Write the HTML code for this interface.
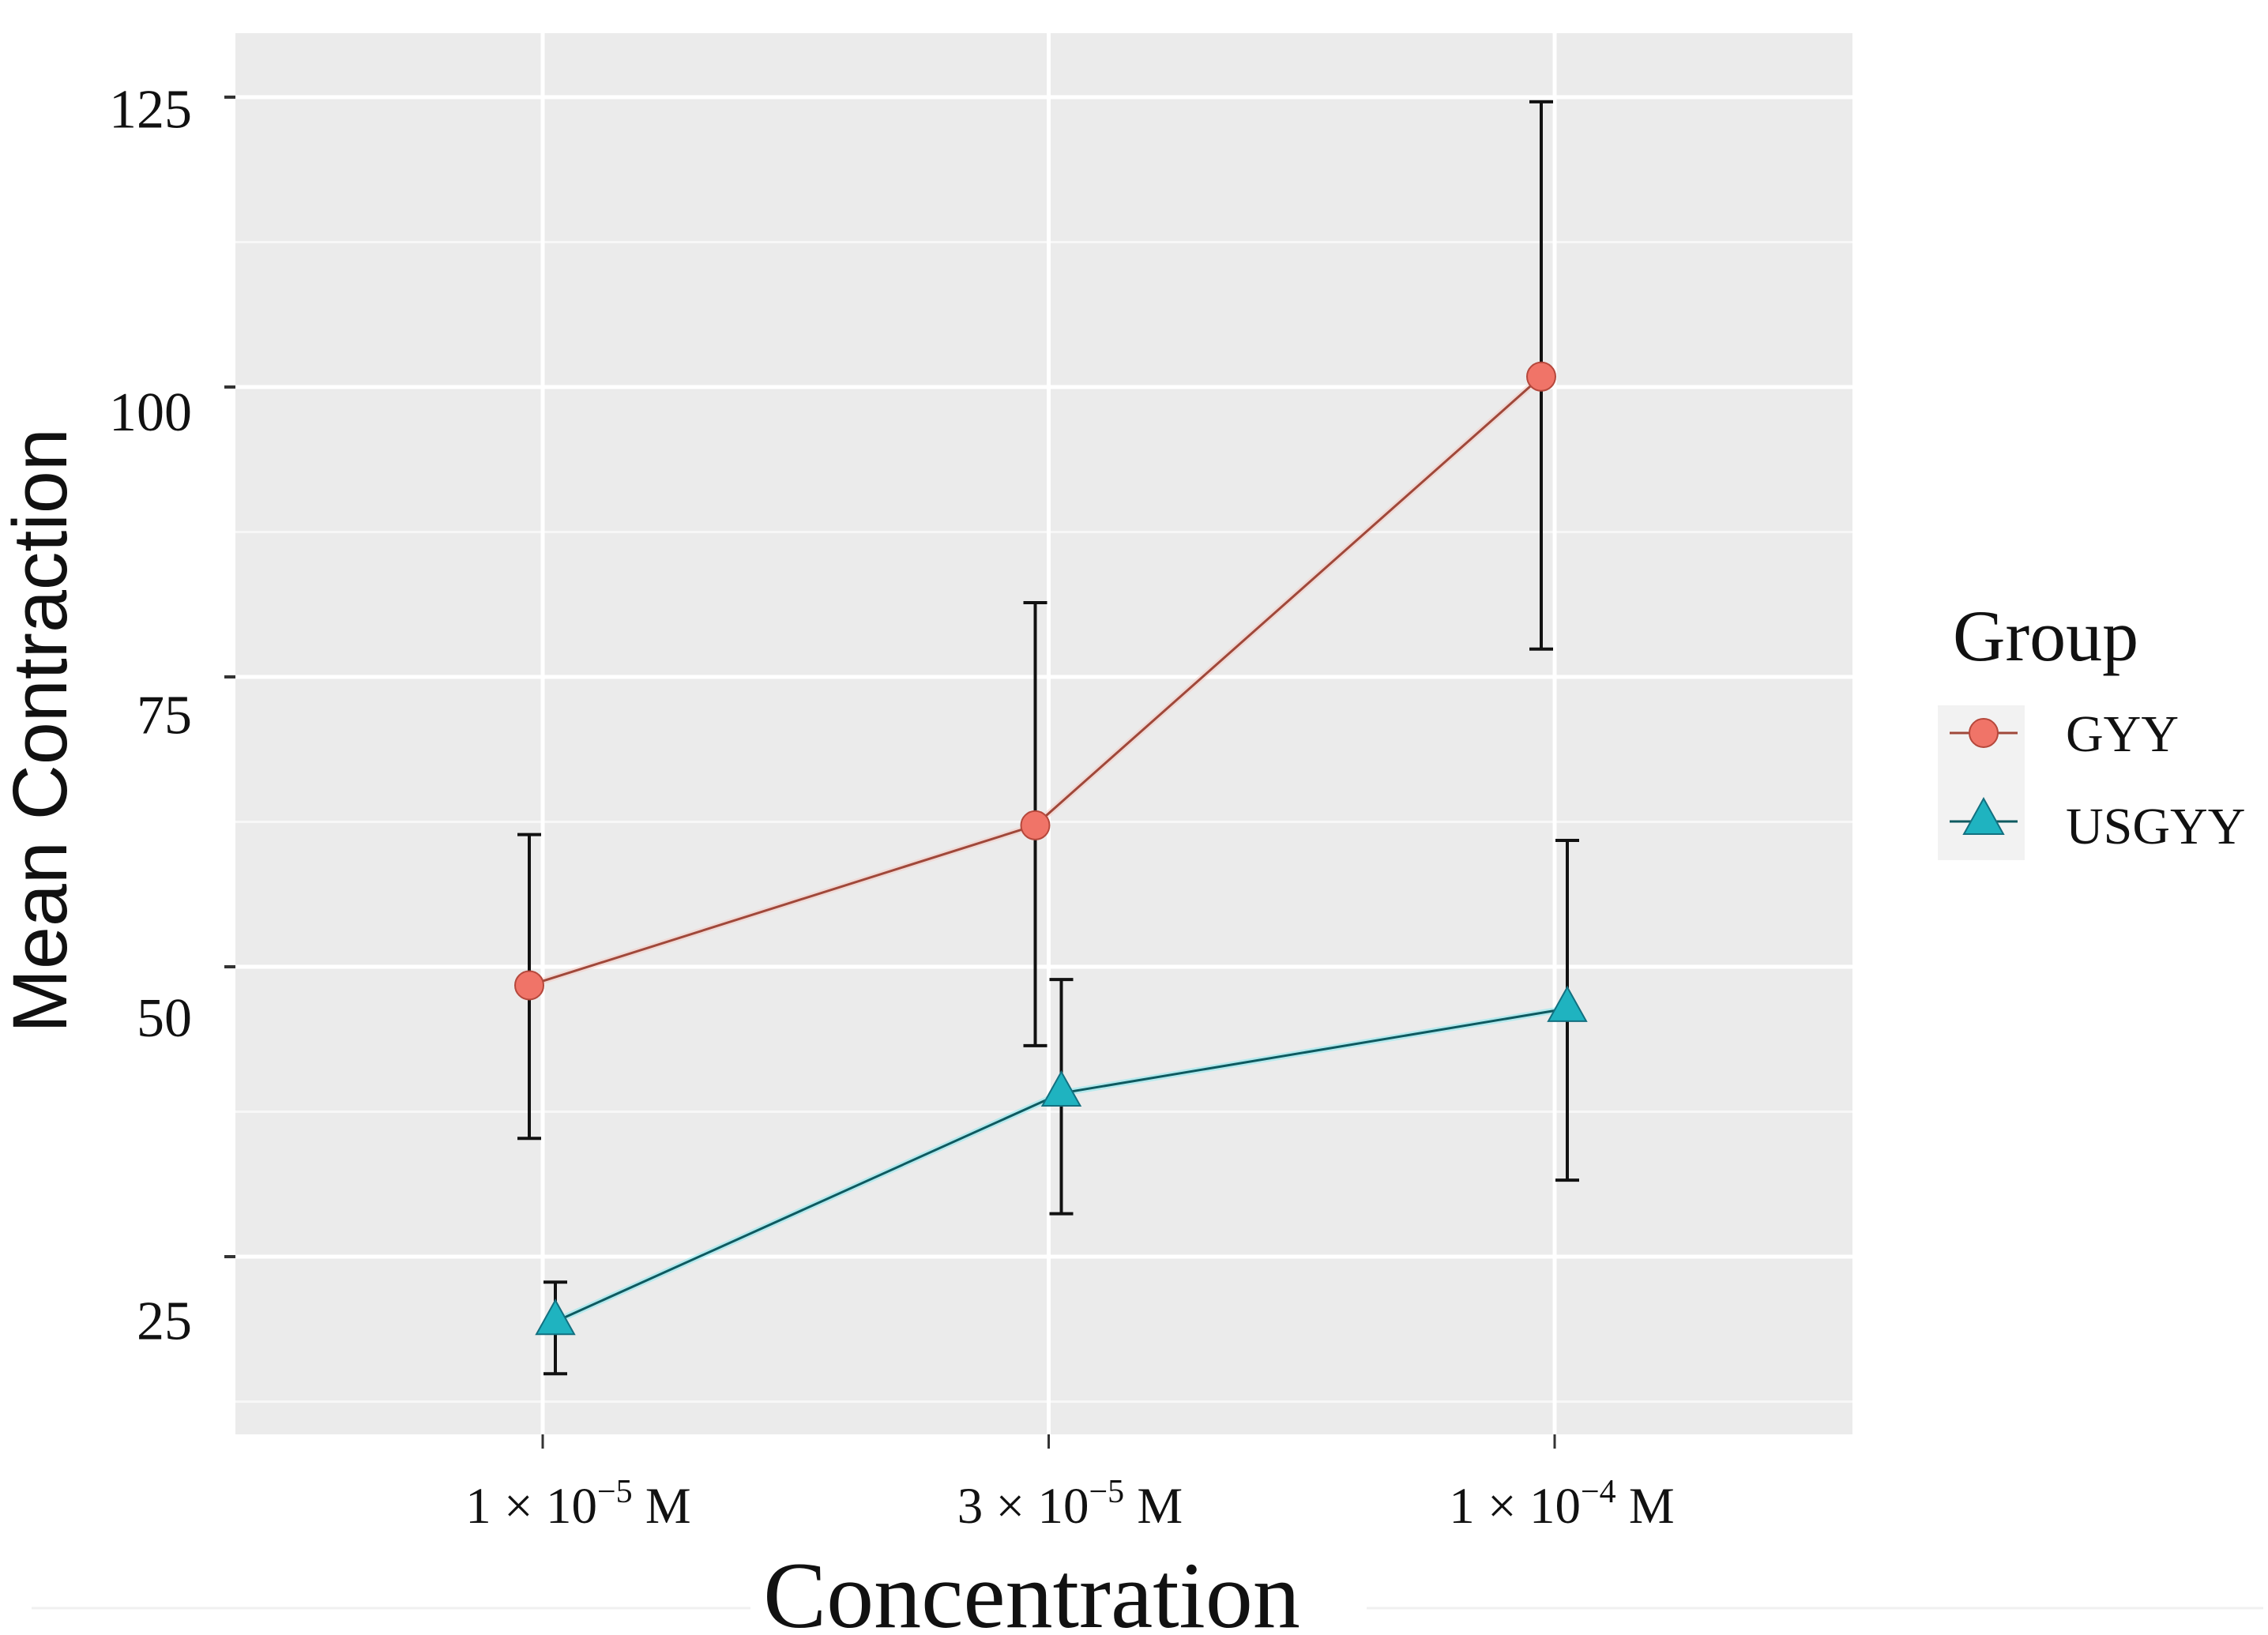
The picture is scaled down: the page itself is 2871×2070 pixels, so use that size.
<!DOCTYPE html>
<html><head><meta charset="utf-8">
<style>
html,body{margin:0;padding:0;background:#fff;}
svg{display:block;}
text{font-family:"Liberation Serif",serif;fill:#111;}
</style></head>
<body>
<svg id="chart" width="2871" height="2070" viewBox="0 0 2871 2070" xmlns="http://www.w3.org/2000/svg">
  <rect x="298" y="42" width="2047" height="1774" fill="#ebebeb"/>
  <g id="grid"></g>
  <g id="axes"></g>
  <g id="series"></g>
  <text x="1306" y="2060" font-size="120" text-anchor="middle">Concentration</text>
  <text transform="translate(84,925) rotate(-90)" font-size="97" text-anchor="middle" style="font-family:'Liberation Sans',sans-serif">Mean Contraction</text>
  <line x1="40" y1="2036" x2="950" y2="2036" stroke="#f0f0f0" stroke-width="3"/>
  <line x1="1730" y1="2036" x2="2865" y2="2036" stroke="#f0f0f0" stroke-width="3"/>
  <g>
    <text x="2472" y="836" font-size="92">Group</text>
    <rect x="2453" y="893" width="110" height="196" fill="#f2f2f2"/>
    <g>
      <line x1="2468" y1="928" x2="2554" y2="928" stroke="#a0483a" stroke-width="3"/>
      <circle cx="2511" cy="928" r="18" fill="#f07468" stroke="#b5483c" stroke-width="2"/>
      <text x="2615" y="951" font-size="66">GYY</text>
    </g>
    <g>
      <line x1="2468" y1="1040" x2="2554" y2="1040" stroke="#0e5a60" stroke-width="3"/>
      <polygon points="2511,1011 2486,1056 2536,1056" fill="#1fb3c0" stroke="#137080" stroke-width="2"/>
      <text x="2615" y="1068" font-size="66">USGYY</text>
    </g>
  </g>
</svg>
<script>
const categories = ["1e-5", "3e-5", "1e-4"];
const yTicks = [25, 50, 75, 100, 125];
const yMinor = [12.5, 37.5, 62.5, 87.5, 112.5];
const gyyMean = [48.4, 62.2, 100.9];
const gyyUpper = [61.4, 81.4, 124.6];
const gyyLower = [35.2, 43.2, 77.4];
const usgyyMean = [19.4, 39.1, 46.4];
const usgyyUpper = [22.8, 48.9, 60.9];
const usgyyLower = [14.9, 28.7, 31.6];

const NS = "http://www.w3.org/2000/svg";
const PX0 = 298, PX1 = 2345, PY0 = 42, PY1 = 1816;
function y(v){ return 123 + (125 - v) * 14.68; }
function x(i){ return 687 + i * 640.5; }
function mk(tag, attrs, parent){
  const e = document.createElementNS(NS, tag);
  for (const k in attrs) e.setAttribute(k, attrs[k]);
  parent.appendChild(e);
  return e;
}
const grid = document.getElementById('grid');
const axes = document.getElementById('axes');
const series = document.getElementById('series');

yMinor.forEach(v => {
  const l = mk('line', {x1:PX0, x2:PX1, y1:y(v), y2:y(v), stroke:'#f7f7f7', 'stroke-width':3}, grid);
  
  
});
yTicks.forEach(v => {
  const l = mk('line', {x1:PX0, x2:PX1, y1:y(v), y2:y(v), stroke:'#ffffff', 'stroke-width':5}, grid);
  
  
  const t = mk('line', {x1:284, x2:298, y1:y(v), y2:y(v), stroke:'#333', 'stroke-width':4}, axes);
  
  
  const off = (8 + (125 - v) * 0.36) * 1.831;
  const lab = mk('text', {x:243, y:y(v) + off + 24, 'font-size':70, 'text-anchor':'end'}, axes);
  lab.textContent = String(v);
  
  
});
const xLabels = [["1","5"],["3","5"],["1","4"]];
categories.forEach((c, i) => {
  const l = mk('line', {x1:x(i), x2:x(i), y1:PY0, y2:PY1, stroke:'#ffffff', 'stroke-width':5}, grid);
  
  
  const t = mk('line', {x1:x(i), x2:x(i), y1:PY1, y2:PY1 + 18, stroke:'#333', 'stroke-width':3}, axes);
  
  
  const lab = mk('text', {x:x(i) + 45 - i * 18, y:1928, 'font-size':65, 'text-anchor':'middle'}, axes);
  lab.innerHTML = xLabels[i][0] + ' × 10<tspan dy="-26" font-size="42">−' + xLabels[i][1] + '</tspan><tspan dy="26"> M</tspan>';
  
  
});

function drawSeries(mean, up, lo, dx, lineColor, glow, name, marker){
  const pts = mean.map((v, i) => (x(i) + dx) + ',' + y(v)).join(' ');
  const g = mk('polyline', {points:pts, fill:'none', stroke:glow, 'stroke-width':8, opacity:0.5}, series);
  
  
  const pl = mk('polyline', {points:pts, fill:'none', stroke:lineColor, 'stroke-width':3}, series);
  
  
  mean.forEach((v, i) => {
    const cx = x(i) + dx;
    const e = mk('path', {d:'M' + (cx - 15) + ' ' + y(up[i]) + 'H' + (cx + 15) + 'M' + cx + ' ' + y(up[i]) + 'V' + y(lo[i]) + 'M' + (cx - 15) + ' ' + y(lo[i]) + 'H' + (cx + 15), stroke:'#111', 'stroke-width':4, fill:'none'}, series);
    
    
  });
  mean.forEach((v, i) => {
    const cx = x(i) + dx, cy = y(v);
    let m;
    if (marker === 'circle') {
      m = mk('circle', {cx:cx, cy:cy, r:18, fill:'#f07468', stroke:'#b5483c', 'stroke-width':2}, series);
    } else {
      m = mk('polygon', {points:cx + ',' + (cy - 27) + ' ' + (cx - 24) + ',' + (cy + 16) + ' ' + (cx + 24) + ',' + (cy + 16), fill:'#1fb3c0', stroke:'#137080', 'stroke-width':2}, series);
    }
    
    
  });
}
drawSeries(gyyMean, gyyUpper, gyyLower, -17, '#a0483a', '#f5c8c0', 'gyy', 'circle');
drawSeries(usgyyMean, usgyyUpper, usgyyLower, 16, '#0e5a60', '#7fe8f0', 'usgyy', 'triangle');
</script>
</body></html>
